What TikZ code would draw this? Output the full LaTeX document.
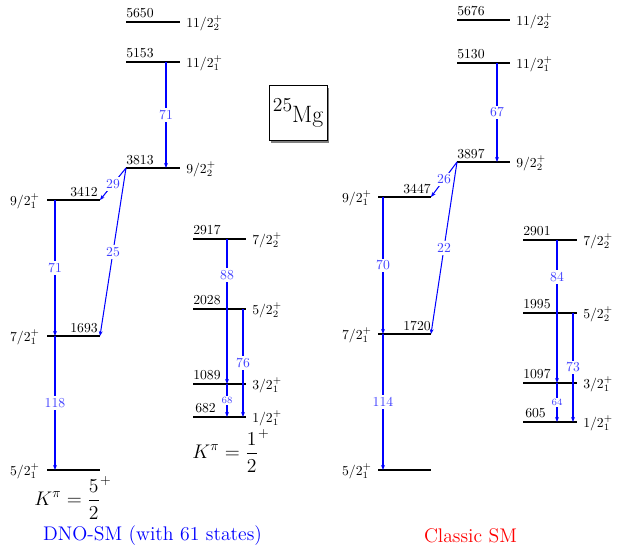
\documentclass[tikz,border=0pt]{standalone}
\usetikzlibrary{calc,arrows.meta,shadows}
\tikzset{
  levelline/.style={line width=1.1pt, black},
  trans/.style={blue, line width=0.75pt, -{Stealth[length=3.6pt,width=2.8pt]}},
  tlab/.style={midway, fill=white, inner sep=1.5pt, text=blue!75, font=\normalsize},
  tlabs/.style={midway, fill=white, inner sep=0.8pt, text=blue!75, font=\scriptsize},
  elab/.style={inner sep=0pt, font=\normalsize},
  jlab/.style={inner sep=0pt, font=\normalsize},
  klab/.style={inner sep=0pt, font=\Large},
  ttl/.style={inner sep=0pt, font=\Large},
}
\newcommand\mklevel[4]{%
  \coordinate (#1-l) at (#2,#4);
  \coordinate (#1-r) at (#3,#4);
  \draw[levelline] (#1-l) -- (#1-r);}
\begin{document}
\begin{tikzpicture}[x=0.73pt,y=-0.73pt]
\useasboundingbox (0,0) rectangle (619,545);

% ---------------- DNO-SM ----------------
\mklevel{d5650}{126}{180}{22}
\mklevel{d5153}{126}{180}{62}
\mklevel{d3813}{126}{180}{168}
\mklevel{d3412}{47}{100}{200}
\mklevel{d1693}{47}{100}{336}
\mklevel{d0}{47}{100}{470}
\mklevel{d2917}{193}{246}{239}
\mklevel{d2028}{193}{246}{309}
\mklevel{d1089}{193}{246}{384}
\mklevel{d682}{193}{246}{417}

\node[elab, anchor=south west] (ed5650) at ($(d5650-l)+(0,-4)$) {5650};
\node[elab, anchor=south west] (ed5153) at ($(d5153-l)+(0,-4)$) {5153};
\node[elab, anchor=south west] (ed3813) at ($(d3813-l)+(0,-3)$) {3813};
\node[elab, anchor=south east] (ed3412) at ($(d3412-r)+(-2,-3)$) {3412};
\node[elab, anchor=south east] (ed1693) at ($(d1693-r)+(-2,-3)$) {1693};
\node[elab, anchor=south west] (ed2917) at ($(d2917-l)+(0,-4)$) {2917};
\node[elab, anchor=south west] (ed2028) at ($(d2028-l)+(0,-4)$) {2028};
\node[elab, anchor=south west] (ed1089) at ($(d1089-l)+(0,-4)$) {1089};
\node[elab, anchor=south west] (ed682) at ($(d682-l)+(2,-4)$) {682};

\node[jlab, anchor=west] (jd5650) at ($(d5650-r)+(6,1)$) {$11/2^+_2$};
\node[jlab, anchor=west] (jd5153) at ($(d5153-r)+(6,1)$) {$11/2^+_1$};
\node[jlab, anchor=west] (jd3813) at ($(d3813-r)+(6,1)$) {$9/2^+_2$};
\node[jlab, anchor=east] (jd3412) at ($(d3412-l)+(-7,1)$) {$9/2^+_1$};
\node[jlab, anchor=east] (jd1693) at ($(d1693-l)+(-7,1)$) {$7/2^+_1$};
\node[jlab, anchor=east] (jd0) at ($(d0-l)+(-7,1)$) {$5/2^+_1$};
\node[jlab, anchor=west] (jd2917) at ($(d2917-r)+(6,1)$) {$7/2^+_2$};
\node[jlab, anchor=west] (jd2028) at ($(d2028-r)+(6,1)$) {$5/2^+_2$};
\node[jlab, anchor=west] (jd1089) at ($(d1089-r)+(6,1)$) {$3/2^+_1$};
\node[jlab, anchor=west] (jd682) at ($(d682-r)+(6,1)$) {$1/2^+_1$};

\draw[trans] ($(d5153-l)+(40,0)$) -- ($(d3813-l)+(40,0)$) node[tlab] {71};
\draw[trans] (d3813-l) -- (d3412-r) node[tlab] {29};
\draw[trans] (d3813-l) -- (d1693-r) node[tlab] {25};
\draw[trans] ($(d3412-l)+(8,0)$) -- ($(d1693-l)+(8,0)$) node[tlab] {71};
\draw[trans] ($(d1693-l)+(8,0)$) -- ($(d0-l)+(8,0)$) node[tlab] {118};
\draw[trans] ($(d2917-l)+(34,0)$) -- ($(d1089-l)+(34,0)$) node[tlab, pos=0.25] {88};
\draw[trans] ($(d2028-l)+(50,0)$) -- ($(d682-l)+(50,0)$) node[tlab, pos=0.5] {76};
\draw[trans] ($(d1089-l)+(34,0)$) -- ($(d682-l)+(34,0)$) node[tlabs] {68};

\node[klab] (kd52) at (73,498) {$\displaystyle K^\pi=\frac{5}{2}^{+}$};
\node[klab] (kd12) at (231,451) {$\displaystyle K^\pi=\frac{1}{2}^{+}$};
\node[ttl, text=blue] (tdno) at (152.5,536) {DNO-SM (with 61 states)};

% ---------------- Classic SM ----------------
\mklevel{c5676}{457}{510}{20}
\mklevel{c5130}{457}{510}{63}
\mklevel{c3897}{457}{510}{162}
\mklevel{c3447}{378}{431}{197}
\mklevel{c1720}{378}{431}{334}
\mklevel{c0}{378}{431}{470}
\mklevel{c2901}{523}{577}{240}
\mklevel{c1995}{523}{577}{313}
\mklevel{c1097}{523}{577}{383}
\mklevel{c605}{523}{577}{422}

\node[elab, anchor=south west] (ec5676) at ($(c5676-l)+(0,-4)$) {5676};
\node[elab, anchor=south west] (ec5130) at ($(c5130-l)+(0,-4)$) {5130};
\node[elab, anchor=south west] (ec3897) at ($(c3897-l)+(0,-3)$) {3897};
\node[elab, anchor=south east] (ec3447) at ($(c3447-r)+(0,-3)$) {3447};
\node[elab, anchor=south east] (ec1720) at ($(c1720-r)+(0,-3)$) {1720};
\node[elab, anchor=south west] (ec2901) at ($(c2901-l)+(0,-4)$) {2901};
\node[elab, anchor=south west] (ec1995) at ($(c1995-l)+(0,-4)$) {1995};
\node[elab, anchor=south west] (ec1097) at ($(c1097-l)+(0,-4)$) {1097};
\node[elab, anchor=south west] (ec605) at ($(c605-l)+(2,-4)$) {605};

\node[jlab, anchor=west] (jc5676) at ($(c5676-r)+(6,1)$) {$11/2^+_2$};
\node[jlab, anchor=west] (jc5130) at ($(c5130-r)+(6,1)$) {$11/2^+_1$};
\node[jlab, anchor=west] (jc3897) at ($(c3897-r)+(6,1)$) {$9/2^+_2$};
\node[jlab, anchor=east] (jc3447) at ($(c3447-l)+(-6,1)$) {$9/2^+_1$};
\node[jlab, anchor=east] (jc1720) at ($(c1720-l)+(-6,1)$) {$7/2^+_1$};
\node[jlab, anchor=east] (jc0) at ($(c0-l)+(-6,1)$) {$5/2^+_1$};
\node[jlab, anchor=west] (jc2901) at ($(c2901-r)+(6,1)$) {$7/2^+_2$};
\node[jlab, anchor=west] (jc1995) at ($(c1995-r)+(6,1)$) {$5/2^+_2$};
\node[jlab, anchor=west] (jc1097) at ($(c1097-r)+(6,1)$) {$3/2^+_1$};
\node[jlab, anchor=west] (jc605) at ($(c605-r)+(6,1)$) {$1/2^+_1$};

\draw[trans] ($(c5130-l)+(40,0)$) -- ($(c3897-l)+(40,0)$) node[tlab] {67};
\draw[trans] (c3897-l) -- (c3447-r) node[tlab] {26};
\draw[trans] (c3897-l) -- (c1720-r) node[tlab] {22};
\draw[trans] ($(c3447-l)+(5,0)$) -- ($(c1720-l)+(5,0)$) node[tlab] {70};
\draw[trans] ($(c1720-l)+(5,0)$) -- ($(c0-l)+(5,0)$) node[tlab] {114};
\draw[trans] ($(c2901-l)+(34,0)$) -- ($(c1097-l)+(34,0)$) node[tlab, pos=0.26] {84};
\draw[trans] ($(c1995-l)+(50,0)$) -- ($(c605-l)+(50,0)$) node[tlab, pos=0.5] {73};
\draw[trans] ($(c1097-l)+(34,0)$) -- ($(c605-l)+(34,0)$) node[tlabs] {64};

\node[ttl, text=red] (tcl) at (470.5,536) {Classic SM};

% ---------------- title box ----------------
\node[draw, line width=0.5pt, fill=white, inner sep=0pt,
      minimum width=42.3pt, minimum height=40pt, font=\LARGE,
      drop shadow={shadow xshift=1.6pt, shadow yshift=-1.6pt, fill=black!50, opacity=1}]
      (mg) at (298,113) {\raisebox{8.5pt}{\Large 25}Mg};
\end{tikzpicture}
\end{document}
